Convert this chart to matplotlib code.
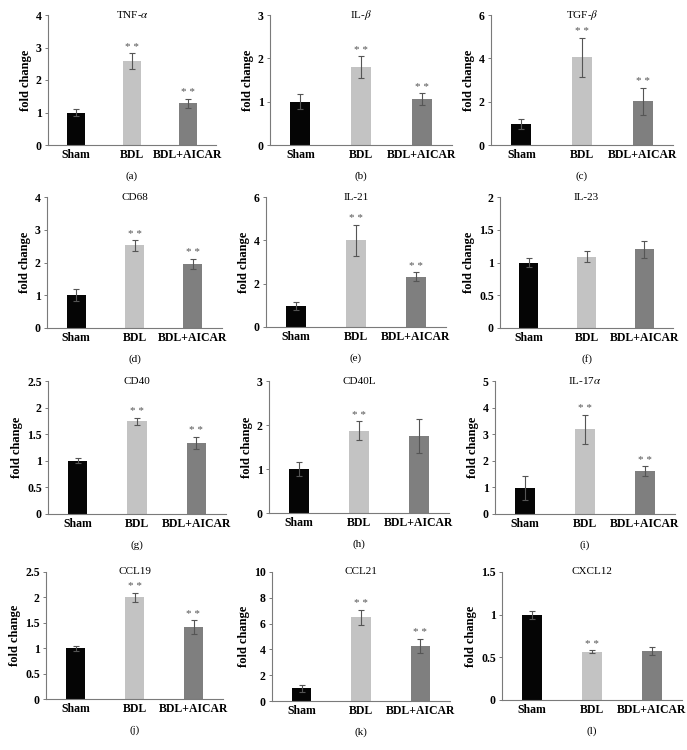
import matplotlib
matplotlib.use("Agg")
import matplotlib.pyplot as plt
import numpy as np

plt.rcParams['font.family'] = ['Liberation Serif', 'DejaVu Serif']
plt.rcParams['mathtext.fontset'] = 'stix'

groups = ["Sham", "BDL", "BDL+AICAR"]
colors = ["#050505", "#c3c3c3", "#7f7f7f"]

titles = ["TNF-$\\alpha$", "IL-$\\beta$", "TGF-$\\beta$", "CD68", "IL-21", "IL-23",
          "CD40", "CD40L", "IL-17$\\alpha$", "CCL19", "CCL21", "CXCL12"]
panel_labels = ["(a)", "(b)", "(c)", "(d)", "(e)", "(f)",
                "(g)", "(h)", "(i)", "(j)", "(k)", "(l)"]

tnf_vals = [1.0, 2.58, 1.28]; tnf_err = [0.12, 0.24, 0.14]
ilb_vals = [1.0, 1.80, 1.06]; ilb_err = [0.18, 0.25, 0.14]
tgf_vals = [0.98, 4.05, 2.02]; tgf_err = [0.22, 0.90, 0.62]
cd68_vals = [1.0, 2.52, 1.96]; cd68_err = [0.18, 0.17, 0.16]
il21_vals = [0.98, 4.0, 2.33]; il21_err = [0.18, 0.72, 0.20]
il23_vals = [1.0, 1.09, 1.20]; il23_err = [0.07, 0.08, 0.13]
cd40_vals = [1.0, 1.74, 1.34]; cd40_err = [0.05, 0.07, 0.11]
cd40l_vals = [1.0, 1.87, 1.75]; cd40l_err = [0.17, 0.21, 0.39]
il17_vals = [0.98, 3.18, 1.62]; il17_err = [0.44, 0.55, 0.18]
ccl19_vals = [1.0, 2.0, 1.41]; ccl19_err = [0.05, 0.09, 0.14]
ccl21_vals = [0.97, 6.5, 4.28]; ccl21_err = [0.30, 0.58, 0.55]
cxcl12_vals = [1.0, 0.565, 0.575]; cxcl12_err = [0.045, 0.018, 0.05]

values = [tnf_vals, ilb_vals, tgf_vals, cd68_vals, il21_vals, il23_vals,
          cd40_vals, cd40l_vals, il17_vals, ccl19_vals, ccl21_vals, cxcl12_vals]
errors = [tnf_err, ilb_err, tgf_err, cd68_err, il21_err, il23_err,
          cd40_err, cd40l_err, il17_err, ccl19_err, ccl21_err, cxcl12_err]
ymax = [4, 3, 6, 4, 6, 2, 2.5, 3, 5, 2.5, 10, 1.5]
ystep = [1, 1, 2, 1, 2, 0.5, 0.5, 1, 1, 0.5, 2, 0.5]
stars = [[1, 2], [1, 2], [1, 2], [1, 2], [1, 2], [],
         [1, 2], [1], [1, 2], [1, 2], [1, 2], [1]]

W, H = 687, 750
# pixel boxes: left, top, width, bottom
boxes = [(48, 15, 168, 145), (270, 15, 182, 145), (491, 15, 182, 145),
         (47, 197, 175, 328), (266, 197, 180, 327), (500, 197, 173, 328),
         (48, 381, 178, 514), (269, 381, 180, 513), (495, 381, 180, 514),
         (46, 572, 177, 699), (272, 572, 178, 701), (502, 572, 180, 700)]

fig = plt.figure(figsize=(W / 100, H / 100), dpi=100)
spine_col = "#7a7a7a"
for i in range(12):
    l, t, w, b = boxes[i]
    ax = fig.add_axes([l / W, 1 - b / H, w / W, (b - t) / H])
    x = np.arange(3)
    ax.bar(x, values[i], width=0.33, color=colors, zorder=2)
    ax.errorbar(x, values[i], yerr=errors[i], fmt='none', ecolor="#555555",
                elinewidth=0.8, capsize=2.2, capthick=0.8, zorder=3)
    for j in stars[i]:
        ax.annotate("* *", (x[j], values[i][j] + errors[i][j]), xytext=(0, 1),
                    textcoords='offset points', ha='center', va='bottom',
                    fontsize=8, color="#555555")
    ax.set_xlim(-0.5, 2.5)
    ax.set_ylim(0, ymax[i])
    ticks = np.arange(0, ymax[i] + 1e-9, ystep[i])
    ax.set_yticks(ticks)
    ax.set_yticklabels([("%g" % v) for v in ticks], fontweight='bold', fontsize=8.5)
    ax.set_xticks(x)
    ax.set_xticklabels(groups, fontweight='bold', fontsize=8.5)
    ax.tick_params(axis='x', length=0, pad=3)
    ax.tick_params(axis='y', length=2.5, width=0.7, color=spine_col, pad=2)
    for s in ['top', 'right']:
        ax.spines[s].set_visible(False)
    for s in ['left', 'bottom']:
        ax.spines[s].set_color(spine_col)
        ax.spines[s].set_linewidth(0.8)
    ax.set_ylabel("fold change", fontweight='bold', fontsize=9, labelpad=3)
    ax.text(0.5, 1.0, titles[i], transform=ax.transAxes, ha='center', va='center',
            fontsize=8)
    ax.text(0.5, -0.2 * 130 / (b - t), panel_labels[i], transform=ax.transAxes,
            ha='center', va='top', fontsize=8)

fig.savefig("out.png", dpi=100, facecolor='white')
